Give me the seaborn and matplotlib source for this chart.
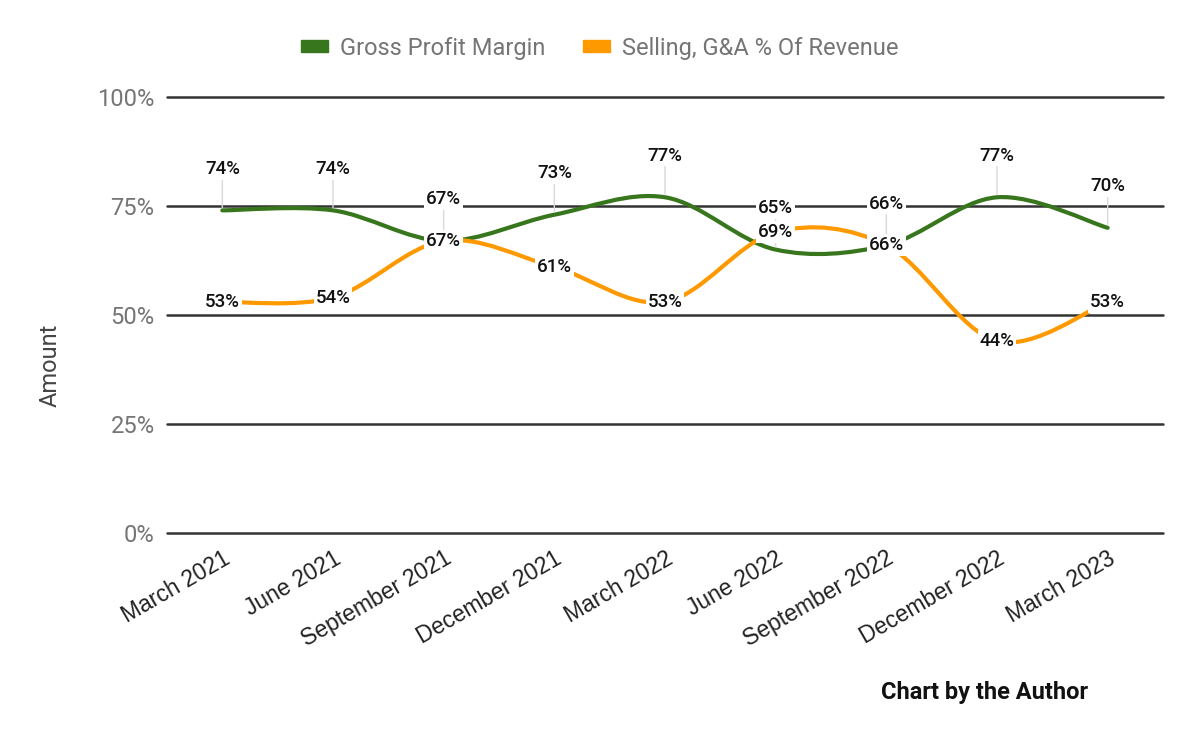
import matplotlib
matplotlib.use('Agg')
from matplotlib import pyplot as plt
from matplotlib.path import Path
from matplotlib.patches import PathPatch, Patch
import pandas as pd
import seaborn as sns

periods = ['March 2021', 'June 2021', 'September 2021', 'December 2021', 'March 2022',
           'June 2022', 'September 2022', 'December 2022', 'March 2023']
gross_margin = [74, 74, 67, 73, 77, 65, 66, 77, 70]
sga_pct = [53, 54, 67, 61, 53, 69, 66, 44, 53]
y_ticks = [0, 25, 50, 75, 100]

GREEN = '#38761d'
ORANGE = '#ff9900'
GREY = '#757575'


def smooth_path(xy):
    # catmull-rom style bezier through the plotted points (like sheets' smooth line)
    n = len(xy)
    verts = [tuple(xy[0])]
    codes = [Path.MOVETO]
    for i in range(n - 1):
        p0 = xy[max(i - 1, 0)]
        p1 = xy[i]
        p2 = xy[i + 1]
        p3 = xy[min(i + 2, n - 1)]
        c1 = p1 + (p2 - p0) / 6.0
        c2 = p2 - (p3 - p1) / 6.0
        verts += [tuple(c1), tuple(c2), tuple(p2)]
        codes += [Path.CURVE4] * 3
    return Path(verts, codes)


df = pd.concat([
    pd.DataFrame({'period': periods, 'value': gross_margin, 'series': 'Gross Profit Margin'}),
    pd.DataFrame({'period': periods, 'value': sga_pct, 'series': 'Selling, G&A % Of Revenue'}),
])

sns.set_style('white')
plt.rcParams['font.family'] = ['Roboto', 'DejaVu Sans']

fig = plt.figure(figsize=(12, 7.41), dpi=100)
ax = fig.add_axes([167 / 1200, 1 - 533 / 741, 996 / 1200, 436 / 741])

sns.lineplot(data=df, x='period', y='value', hue='series', palette=[GREEN, ORANGE],
             sort=False, errorbar=None, legend=False, linewidth=3, ax=ax)

# swap the straight segments for smooth curves
for line in list(ax.lines):
    patch = PathPatch(smooth_path(line.get_xydata()), fill=False, edgecolor=line.get_color(),
                      linewidth=3, capstyle='round', joinstyle='round', zorder=3)
    ax.add_patch(patch)
    line.remove()

ax.set_xlim(-0.5, len(periods) - 0.5)
ax.set_ylim(0, 100)
ax.set_yticks(y_ticks)
ax.set_yticklabels([f'{t}%' for t in y_ticks], color=GREY, fontsize=17)
ax.yaxis.grid(True, color='#333333', linewidth=1.8)
for gl in ax.get_ygridlines():
    gl.set_clip_on(False)
ax.set_axisbelow(True)
for s in ax.spines.values():
    s.set_visible(False)
ax.tick_params(axis='both', length=0)
ax.tick_params(axis='y', pad=9)
ax.set_xticks(range(len(periods)))
ax.set_xticklabels(periods, rotation=30, ha='right', va='top', rotation_mode='anchor',
                   fontsize=16.5, color='#222222', family='Liberation Sans')
ax.tick_params(axis='x', pad=10)
ax.set_xlabel('')
ax.set_ylabel('Amount', fontsize=17, color='#444444')
ax.yaxis.set_label_coords(-0.106, 0.385)

for i, v in enumerate(gross_margin):
    ax.annotate(f'{v}%', xy=(i, v), xytext=(0, 30), textcoords='offset points',
                ha='center', va='center', fontsize=13.5, fontweight='medium', color='#111111',
                bbox=dict(boxstyle='square,pad=0.1', fc='white', ec='none'),
                arrowprops=dict(arrowstyle='-', color='#d9d9d9', lw=1, shrinkA=0, shrinkB=2),
                zorder=5)

for i, v in enumerate(sga_pct):
    ax.text(i, v, f'{v}%', ha='center', va='center', fontsize=13.5, fontweight='medium',
            color='#111111', bbox=dict(boxstyle='square,pad=0.1', fc='white', ec='none'),
            zorder=6)

handles = [Patch(color=GREEN), Patch(color=ORANGE)]
leg = fig.legend(handles, ['Gross Profit Margin', 'Selling, G&A % Of Revenue'],
                 loc='center', bbox_to_anchor=(0.5, 1 - 48 / 741), ncol=2, frameon=False,
                 fontsize=17, handlelength=1.15, handleheight=0.45, columnspacing=1.6,
                 handletextpad=0.5)
for t in leg.get_texts():
    t.set_color(GREY)

fig.text(985 / 1200, 1 - 692 / 741, 'Chart by the Author', ha='center', va='center',
         fontsize=17, fontweight='bold', color='#111111')

plt.savefig('out.png', dpi=100)
plt.close()
